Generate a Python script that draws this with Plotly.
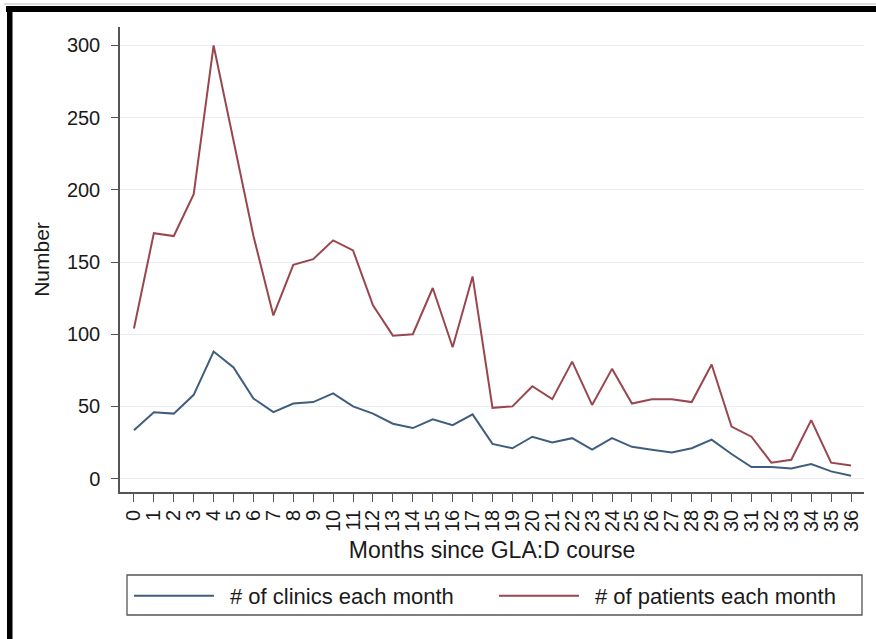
import plotly.graph_objects as go

months = list(range(37))
month_labels = [str(m) for m in months]
clinics = [33.5, 46, 45, 58, 88, 77, 55.5, 46, 52, 53, 59, 50, 45, 38, 35, 41, 37, 44.5,
           24, 21, 29, 25, 28, 20, 28, 22, 20, 18, 21, 27, 17, 8, 8, 7, 10, 5, 2]
patients = [104, 170, 168, 197, 300, 235, 168, 113, 148, 152, 165, 158, 120, 99, 100, 132, 91, 140,
            49, 50, 64, 55, 81, 51, 76, 52, 55, 55, 53, 79, 36, 29, 11, 13, 40.5, 11, 9]
y_ticks = [0, 50, 100, 150, 200, 250, 300]

W, H = 876, 639
L, R, T, B = 120, 12, 27, 147
PW, PH = W - L - R, H - T - B

def px(x):
    return (x - L) / PW

def py(y):
    return (H - B - y) / PH

FONT = "Liberation Sans, Arial, Helvetica, sans-serif"
TXT = "#1a1a1a"

fig = go.Figure()
fig.add_trace(go.Scatter(x=months, y=clinics, mode="lines", name="\u2002# of clinics each month",
                         line=dict(color="#3f5e7e", width=2)))
fig.add_trace(go.Scatter(x=months, y=patients, mode="lines", name="\u2002# of patients each month",
                         line=dict(color="#99464f", width=2)))

fig.update_layout(
    width=W, height=H,
    margin=dict(l=L, r=R, t=T, b=B, pad=0),
    paper_bgcolor="white", plot_bgcolor="white",
    font=dict(family=FONT, color=TXT),
    showlegend=True,
    legend=dict(orientation="h", x=px(129), y=py(575), xanchor="left", yanchor="top",
                borderwidth=0, bgcolor="rgba(0,0,0,0)",
                font=dict(size=22, family=FONT, color=TXT),
                itemwidth=80, entrywidth=270, entrywidthmode="pixels",
                tracegroupgap=0),
    xaxis=dict(range=[-0.70, 36.65], tickmode="array", tickvals=months, ticktext=month_labels,
               tickangle=-90, ticks="outside", ticklen=8, tickcolor="#555555", tickwidth=1.2,
               showline=True, linecolor="#555555", linewidth=1.5, showgrid=False, zeroline=False,
               tickfont=dict(size=20, family=FONT, color=TXT),
               title=dict(text="Months since GLA:D course", font=dict(size=23, family=FONT, color=TXT),
                          standoff=11)),
    yaxis=dict(range=[-9.3, 312.8], tickmode="array", tickvals=y_ticks,
               ticktext=[str(v) for v in y_ticks],
               ticks="outside", ticklen=7, tickcolor="#555555", tickwidth=1.2,
               ticklabelstandoff=7,
               showline=True, linecolor="#555555", linewidth=1.5,
               showgrid=True, gridcolor="#e9edf1", gridwidth=1, zeroline=False,
               tickfont=dict(size=20, family=FONT, color=TXT),
               title=dict(text="Number", font=dict(size=21, family=FONT, color=TXT),
                          standoff=12)),
)

# legend box
fig.add_shape(type="rect", xref="paper", yref="paper", x0=px(127), x1=px(862), y0=py(615), y1=py(575),
              fillcolor="rgba(0,0,0,0)", line=dict(color="#555555", width=1.3), layer="above")
# black frame (top and left bars)
fig.add_shape(type="rect", xref="paper", yref="paper", x0=px(6), x1=px(W + 2), y0=py(12), y1=py(6),
              fillcolor="black", line=dict(width=0), layer="above")
fig.add_shape(type="rect", xref="paper", yref="paper", x0=px(7), x1=px(12.5), y0=py(H + 2), y1=py(6),
              fillcolor="black", line=dict(width=0), layer="above")
fig.add_shape(type="line", xref="paper", yref="paper", x0=px(4), x1=px(W + 2), y0=py(4), y1=py(4),
              line=dict(color="#bbbbbb", width=1), layer="above")

fig.write_html("out.html")
